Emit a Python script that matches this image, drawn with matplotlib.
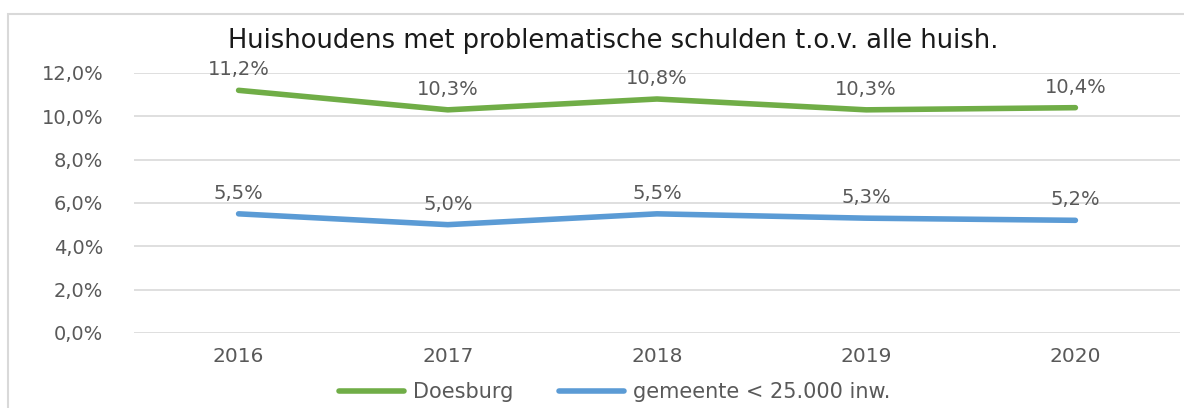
import matplotlib
matplotlib.use("Agg")
import matplotlib.pyplot as plt
from matplotlib.patches import Rectangle

years = ["2016", "2017", "2018", "2019", "2020"]
doesburg = [11.2, 10.3, 10.8, 10.3, 10.4]
gemeente = [5.5, 5.0, 5.5, 5.3, 5.2]
yticks = [0, 2, 4, 6, 8, 10, 12]

green = "#70AD47"
blue = "#5B9BD5"
grey = "#595959"

fig = plt.figure(figsize=(11.84, 4.08), dpi=100)
ax = fig.add_axes([134 / 1184, 1 - 333 / 408, (1180 - 134) / 1184, (333 - 73) / 408])

# chart border
fig.patches.append(Rectangle((8 / 1184, -0.05), 1.2, 1 - 14 / 408 + 0.05, transform=fig.transFigure,
                             fill=False, edgecolor="#D9D9D9", linewidth=1.5))

x = range(len(years))
ax.plot(x, doesburg, color=green, linewidth=4, solid_capstyle="round", label="Doesburg")
ax.plot(x, gemeente, color=blue, linewidth=4, solid_capstyle="round", label="gemeente < 25.000 inw.")

for series in (doesburg, gemeente):
    for i, v in enumerate(series):
        ax.annotate(f"{v:.1f}%".replace(".", ","), (i, v), xytext=(0, 8), textcoords="offset points",
                    ha="center", va="bottom", fontsize=14, color=grey)

ax.set_xlim(-0.5, len(years) - 0.5)
ax.set_ylim(0, 12)
ax.set_yticks(yticks)
ax.set_yticklabels([f"{t:.1f}%".replace(".", ",") for t in yticks], fontsize=14, color=grey)
ax.set_xticks(list(x))
ax.set_xticklabels(years, fontsize=14.5, color=grey)
ax.tick_params(axis="y", length=0, pad=22)
ax.tick_params(axis="x", length=0, pad=10)
ax.grid(axis="y", color="#D9D9D9", linewidth=1.2)
ax.set_axisbelow(True)
for s in ax.spines.values():
    s.set_visible(False)

fig.text(613 / 1184, 1 - 41 / 408, "Huishoudens met problematische schulden t.o.v. alle huish.",
         ha="center", va="center", fontsize=18.5, color="#1a1a1a")

leg = fig.legend(loc="center", bbox_to_anchor=(615 / 1184, 1 - 392 / 408), ncol=2, frameon=False,
                 prop={"size": 15}, handlelength=3.1, columnspacing=2.2, handletextpad=0.45,
                 borderpad=0, borderaxespad=0)
for t in leg.get_texts():
    t.set_color(grey)

fig.savefig("out.png", dpi=100)
